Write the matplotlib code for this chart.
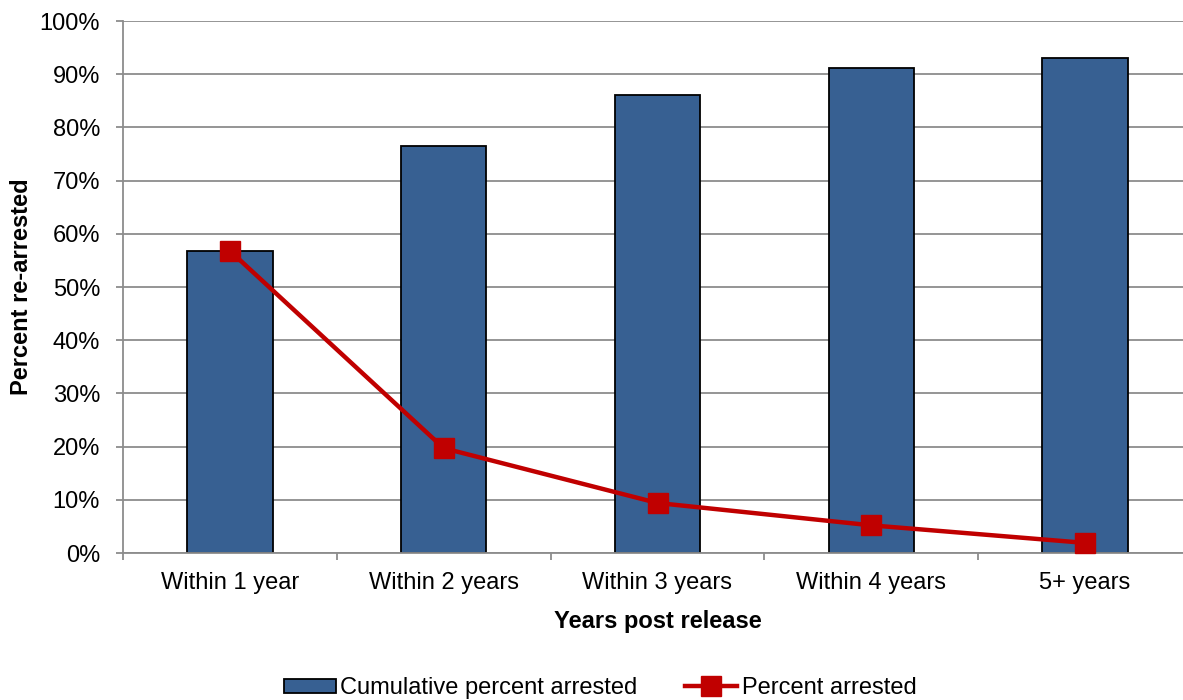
import matplotlib
matplotlib.use("Agg")
import matplotlib.pyplot as plt
from matplotlib.ticker import FuncFormatter, MultipleLocator
from matplotlib.lines import Line2D
from matplotlib.patches import Patch

plt.rcParams['font.family'] = ['Liberation Sans', 'DejaVu Sans']

categories = ["Within 1 year", "Within 2 years", "Within 3 years", "Within 4 years", "5+ years"]
cumulative_pct = [56.8, 76.5, 86.0, 91.2, 93.1]
annual_pct = [56.8, 19.7, 9.4, 5.2, 1.9]

W, H = 1183, 700
fig = plt.figure(figsize=(W / 100, H / 100), dpi=100)
left, right, bottom, top = 123, 1192, 553, 21
ax = fig.add_axes([left / W, 1 - bottom / H, (right - left) / W, (bottom - top) / H])

x = list(range(len(categories)))
bar_color = "#376092"
line_color = "#C00000"
grid_color = "#8c8c8c"
fs = 17

ax.bar(x, cumulative_pct, width=0.40, color=bar_color, edgecolor="black", linewidth=1.3, zorder=2)
ax.plot(x, annual_pct, color=line_color, linewidth=3.2, marker="s", markersize=14,
        markerfacecolor=line_color, markeredgecolor=line_color, zorder=3, clip_on=False)

ax.set_xlim(-0.5, len(categories) - 0.5)
ax.set_ylim(0, 100)
ax.yaxis.set_major_locator(MultipleLocator(10))
ax.yaxis.set_major_formatter(FuncFormatter(lambda v, p: f"{v:.0f}%"))
ax.grid(axis="y", color=grid_color, linewidth=1.3, zorder=0)
ax.set_axisbelow(True)

ax.set_xticks(x)
ax.set_xticklabels(categories)
ax.set_xticks([i - 0.5 for i in range(len(categories) + 1)], minor=True)
ax.tick_params(axis="x", which="major", length=0, labelsize=fs, pad=14)
ax.tick_params(axis="x", which="minor", length=5, width=1.3, color=grid_color)
ax.tick_params(axis="y", length=5, width=1.3, color=grid_color, labelsize=fs, pad=11.5)

for s in ["top", "right"]:
    ax.spines[s].set_visible(False)
for s in ["left", "bottom"]:
    ax.spines[s].set_color(grid_color)
    ax.spines[s].set_linewidth(1.3)

ax.set_ylabel("Percent re-arrested", fontsize=fs, fontweight="bold", labelpad=5)
ax.set_xlabel("Years post release", fontsize=fs, fontweight="bold", labelpad=11)

handles = [
    Patch(facecolor=bar_color, edgecolor="black", linewidth=1.3, label="Cumulative percent arrested"),
    Line2D([0], [0], color=line_color, linewidth=3.2, marker="s", markersize=14, label="Percent arrested"),
]
fig.legend(handles=handles, loc="center", bbox_to_anchor=(600 / W, 1 - 688 / H), ncol=2,
           frameon=False, fontsize=fs, handlelength=2.2, handleheight=0.55,
           handletextpad=0.2, columnspacing=2.0, borderpad=0.2)

fig.savefig("out.png", dpi=100)
